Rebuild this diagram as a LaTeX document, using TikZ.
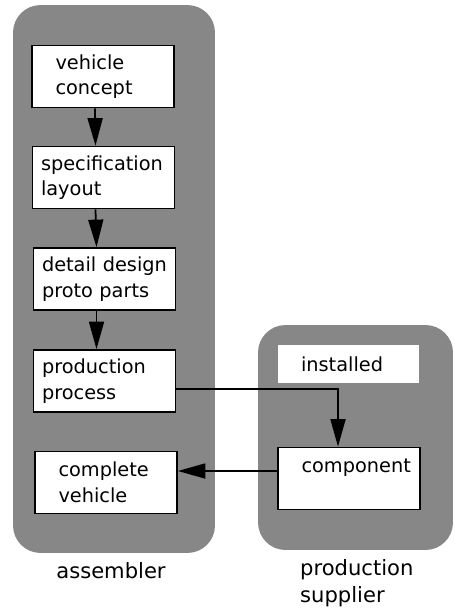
\documentclass[tikz,border=0pt]{standalone}
\usepackage{fontspec}
\setmainfont{DejaVu Sans}
\usetikzlibrary{arrows.meta,positioning}

\tikzset{
  group/.style={fill=black!47, rounded corners=0.55cm},
  stage/.style={draw, fill=white, line width=1pt, minimum width=2.84cm, minimum height=1.24cm,
    text width=2.5cm, inner xsep=0.17cm, align=left},
  flow/.style={line width=1pt, -{Triangle[length=0.55cm,width=0.3cm]}},
  groupname/.style={font=\fontsize{12}{15.5}\selectfont}
}
\newcommand{\ind}{\hspace*{0.3cm}}

\begin{document}
\begin{tikzpicture}[x=0.02cm, y=-0.02cm, font=\fontsize{11}{14.5}\selectfont]
\useasboundingbox (0,0) rectangle (455,611);
% shaded areas
\node (asm) [group, minimum width=4.04cm, minimum height=10.96cm] at (114,279) {};
\node (sup) [group, minimum width=3.9cm, minimum height=4.5cm] at (355.5,437.5) {};
% assembler steps
\node (concept) [stage] at (103,76.5) {\ind vehicle\\\ind concept};
\node (spec) [stage] at (103.5,177.5) {specification\\layout};
\node (detail) [stage] at (104.5,279) {detail design\\proto parts};
\node (process) [stage] at (104.5,381) {production\\process};
\node (vehicle) [stage] at (106,482.5) {\ind complete\\\ind vehicle};
% supplier
\node (installed) [stage, draw=none, minimum height=0.76cm] at (348.5,364) {\ind installed};
\node (component) [stage] at (349,478.5) {\ind component\\~};
% flows
\foreach \a/\b in {concept/spec, spec/detail, detail/process}
  \draw[flow] ([xshift=-0.16cm]\a.south) -- ([xshift=-0.16cm]\b.north);
\draw[flow] ([yshift=-0.16cm]process.east) -| ([xshift=-0.22cm]component.north);
\draw[flow] ([yshift=0.15cm]component.west) -- ([yshift=0.15cm]component.west -| vehicle.east);
% names
\node (asmname) [groupname] at (111,571) {assembler};
\node (supname) [groupname, align=left, anchor=west] at (294,583) {production\\supplier};
\end{tikzpicture}
\end{document}
